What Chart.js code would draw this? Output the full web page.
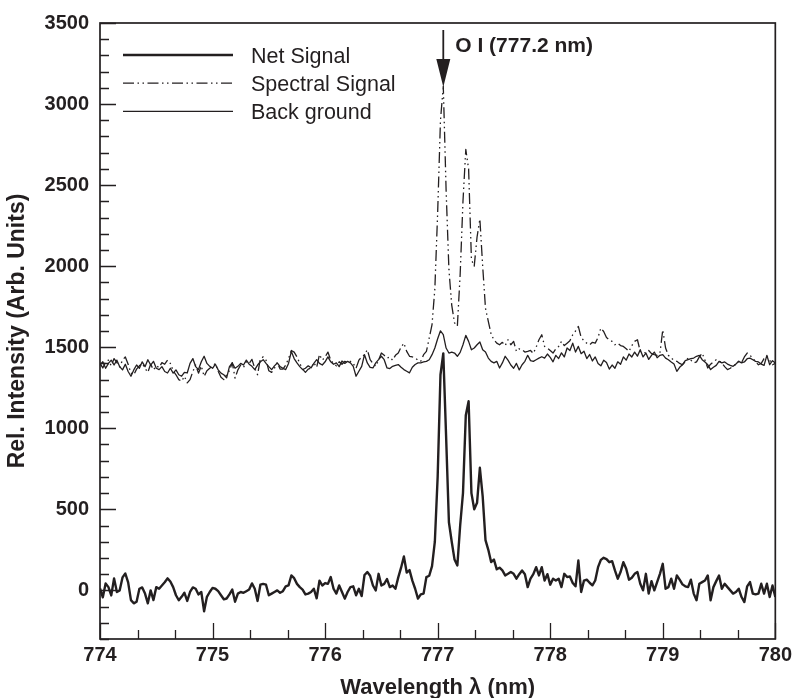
<!DOCTYPE html>
<html>
<head>
<meta charset="utf-8">
<script src="https://cdn.jsdelivr.net/npm/chart.js@4.4.1/dist/chart.umd.min.js"></script>
<style>
html,body{margin:0;padding:0;background:#ffffff;}
#wrap{width:796px;height:698px;}
</style>
</head>
<body>
<div id="wrap"><canvas id="c" width="796" height="698"></canvas></div>
<script>
// ---- data ----
const wlStart = 774;
const wlStep = 0.025;

const netSignal = [
  12, -43, 43, 20, -31, 74, -10, 0, 80, 104, 49, -60, -80, -70, 10, 18, -20, -80, 0, -60,
  20, 10, 30, 50, 74, 55, 20, -30, -61, -40, -15, -65, -10, 18, 10, -25, -10, -129, -40, -10,
  15, 10, -5, -30, -55, -50, -25, 5, -70, -20, -10, -15, -5, 5, 43, 10, -65, 35, 40, 35,
  -30, -20, -10, 0, -15, -5, 25, 31, 92, 75, 40, 20, 5, -25, -20, -10, 10, -49, 60, 30,
  45, 40, 82, 10, -20, 30, -10, -51, -10, 20, 25, -30, 10, -35, 95, 113, 90, 30, 0, 102,
  30, 40, 70, 20, 30, 10, 80, 140, 209, 110, 125, 60, 10, -51, -25, -20, 82, 90, 150, 300,
  700, 1330, 1462, 950, 420, 300, 190, 154, 400, 600, 1080, 1167, 600, 500, 540, 756, 580, 310, 250, 175,
  190, 130, 140, 123, 92, 102, 113, 102, 72, 100, 123, 100, 20, 72, 100, 143, 92, 143, 61, 100,
  35, 72, 61, 72, 20, 102, 82, 86, 45, 25, 184, -10, 60, 66, 47, 31, 61, 143, 188, 201,
  193, 174, 180, 123, 72, 113, 174, 133, 66, 78, 102, 113, 41, 0, 102, -20, 57, 0, 51, 102,
  164, 10, 20, 72, 10, 92, 66, 37, 25, 20, 66, -20, -61, 41, 51, 61, 92, -61, 20, 57,
  92, 10, 41, 20, 0, -20, -10, 10, -41, -72, 25, 51, -20, -25, -20, 41, -20, 41, -41, 30, -40
];

const spectralSignal = [
  1400, 1372, 1410, 1420, 1385, 1430, 1405, 1378, 1420, 1440, 1395, 1340, 1330, 1365, 1385, 1400, 1370, 1345, 1395, 1360,
  1385, 1375, 1405, 1395, 1420, 1400, 1355, 1330, 1300, 1290, 1320, 1280, 1300, 1350, 1390, 1340, 1385, 1320, 1355, 1370,
  1385, 1400, 1352, 1315, 1300, 1330, 1355, 1405, 1310, 1360, 1390, 1375, 1410, 1400, 1425, 1370, 1330, 1430, 1440, 1420,
  1355, 1345, 1370, 1405, 1365, 1365, 1390, 1430, 1480, 1470, 1440, 1400, 1365, 1345, 1365, 1370, 1405, 1375, 1455, 1420,
  1440, 1470, 1420, 1400, 1385, 1410, 1395, 1413, 1405, 1413, 1400, 1370, 1420, 1440, 1454, 1484, 1423, 1400, 1382, 1420,
  1464, 1450, 1433, 1440, 1420, 1450, 1464, 1500, 1525, 1474, 1444, 1440, 1433, 1420, 1413, 1454, 1474, 1556, 1640, 1860,
  2330, 2900, 3110, 2470, 1980, 1760, 1650, 1630, 1950, 2400, 2720, 2600, 2040, 2000, 2180, 2290, 2000, 1740, 1660, 1580,
  1546, 1525, 1515, 1530, 1510, 1546, 1515, 1536, 1474, 1490, 1485, 1470, 1474, 1480, 1462, 1500, 1546, 1577, 1505, 1495,
  1480, 1464, 1490, 1505, 1536, 1510, 1525, 1540, 1577, 1600, 1628, 1560, 1540, 1525, 1515, 1530, 1525, 1560, 1618, 1597,
  1560, 1546, 1536, 1515, 1525, 1510, 1505, 1490, 1474, 1510, 1536, 1546, 1474, 1470, 1464, 1480, 1460, 1454, 1450, 1464,
  1607, 1495, 1450, 1433, 1420, 1413, 1400, 1392, 1410, 1433, 1420, 1403, 1410, 1440, 1464, 1420, 1372, 1395, 1410, 1423,
  1415, 1403, 1380, 1362, 1370, 1382, 1395, 1413, 1405, 1440, 1464, 1450, 1433, 1410, 1392, 1400, 1430, 1444, 1420, 1392, 1400
];

const background = [
  1390, 1410, 1370, 1400, 1420, 1390, 1420, 1380, 1360, 1395, 1350, 1321, 1360, 1390, 1370, 1410, 1380, 1423, 1390, 1413,
  1370, 1362, 1380, 1350, 1341, 1370, 1340, 1360, 1330, 1321, 1345, 1341, 1400, 1430, 1380, 1362, 1410, 1444, 1400, 1382,
  1370, 1395, 1360, 1340, 1330, 1311, 1380, 1403, 1370, 1382, 1400, 1390, 1420, 1395, 1382, 1362, 1390, 1410, 1423, 1400,
  1380, 1362, 1385, 1403, 1380, 1370, 1362, 1400, 1474, 1430, 1403, 1380, 1362, 1370, 1385, 1373, 1400, 1423, 1400, 1390,
  1410, 1440, 1410, 1395, 1403, 1380, 1415, 1400, 1413, 1403, 1382, 1321, 1352, 1382, 1454, 1403, 1376, 1372, 1403, 1423,
  1444, 1423, 1372, 1368, 1382, 1388, 1393, 1376, 1362, 1352, 1342, 1376, 1393, 1403, 1403, 1409, 1413, 1423, 1454, 1495,
  1552, 1601, 1577, 1495, 1464, 1470, 1464, 1444, 1468, 1515, 1573, 1536, 1484, 1495, 1515, 1532, 1484, 1470, 1433, 1413,
  1403, 1413, 1372, 1403, 1444, 1420, 1390, 1370, 1400, 1360, 1392, 1413, 1450, 1417, 1413, 1423, 1433, 1441, 1433, 1458,
  1437, 1410, 1450, 1430, 1465, 1440, 1495, 1480, 1525, 1470, 1505, 1460, 1475, 1430, 1455, 1415, 1440, 1400, 1385, 1420,
  1405, 1365, 1390, 1370, 1410, 1395, 1440, 1420, 1458, 1440, 1470, 1445, 1485, 1440, 1464, 1425, 1450, 1470, 1435, 1450,
  1454, 1433, 1423, 1409, 1396, 1351, 1376, 1392, 1417, 1423, 1429, 1433, 1444, 1450, 1423, 1409, 1392, 1362, 1376, 1388,
  1413, 1403, 1409, 1396, 1388, 1382, 1396, 1413, 1403, 1409, 1429, 1433, 1423, 1413, 1409, 1396, 1388, 1450, 1392, 1417, 1403
];

const seriesNames = ['Net Signal', 'Spectral Signal', 'Back ground'];
const xTickLabels = [774, 775, 776, 777, 778, 779, 780];
const yTickLabels = [0, 500, 1000, 1500, 2000, 2500, 3000, 3500];
const xTitle = 'Wavelength \u03BB (nm)';
const yTitle = 'Rel. Intensity (Arb. Units)';
const annotationText = 'O I (777.2 nm)';
const annotationWavelength = 777.05;

// ---- styling ----
const ink = '#231f20';
const FONT = '"Liberation Sans", Arial, Helvetica, sans-serif';
const spectralDash = [11, 3.5, 1.5, 3.5, 1.5, 3.5];

Chart.defaults.font.family = FONT;
Chart.defaults.color = ink;

function toPoints(arr) {
  return arr.map((v, i) => ({ x: wlStart + i * wlStep, y: v }));
}

const styles = [
  { width: 2.4, dash: [] },
  { width: 1.3, dash: spectralDash },
  { width: 1.3, dash: [] }
];

// inward ticks, frame, legend and annotation drawn via the chart's scales
const decor = {
  id: 'decor',
  afterDraw(chart) {
    const { ctx, chartArea: a, scales: { x, y } } = chart;
    ctx.save();
    // frame
    ctx.strokeStyle = ink;
    ctx.lineWidth = 1.7;
    ctx.strokeRect(a.left, a.top, a.right - a.left, a.bottom - a.top);
    // ticks
    ctx.lineWidth = 1.3;
    ctx.beginPath();
    for (let k = 0; k <= 18; k++) {
      const v = xTickLabels[0] + k / 3;
      const px = Math.round(x.getPixelForValue(v)) + 0.5;
      const len = (k % 3 === 0) ? 16 : 9;
      ctx.moveTo(px, a.bottom);
      ctx.lineTo(px, a.bottom - len);
    }
    for (let v = y.min; v <= y.max; v += 100) {
      const py = Math.round(y.getPixelForValue(v)) + 0.5;
      const len = (v % 500 === 0) ? 16 : 9;
      ctx.moveTo(a.left, py);
      ctx.lineTo(a.left + len, py);
    }
    ctx.stroke();

    // legend
    ctx.font = '21.5px ' + FONT;
    ctx.fillStyle = ink;
    ctx.textAlign = 'left';
    ctx.textBaseline = 'alphabetic';
    for (let k = 0; k < seriesNames.length; k++) {
      const ly = a.top + 32 + k * 28.2;
      ctx.beginPath();
      ctx.lineWidth = styles[k].width;
      ctx.setLineDash(styles[k].dash);
      ctx.moveTo(a.left + 23, ly);
      ctx.lineTo(a.left + 133, ly);
      ctx.stroke();
      ctx.setLineDash([]);
      ctx.fillText(seriesNames[k], a.left + 151, ly + 7.6);
    }

    // annotation arrow
    const ax = x.getPixelForValue(annotationWavelength);
    ctx.beginPath();
    ctx.lineWidth = 1.8;
    ctx.moveTo(ax, a.top + 7);
    ctx.lineTo(ax, a.top + 38);
    ctx.stroke();
    ctx.beginPath();
    ctx.moveTo(ax - 7, a.top + 36);
    ctx.lineTo(ax + 7, a.top + 36);
    ctx.lineTo(ax, a.top + 64);
    ctx.closePath();
    ctx.fill();
    ctx.font = 'bold 21px ' + FONT;
    ctx.fillText(annotationText, ax + 12, a.top + 28.5);
    ctx.restore();
  }
};

new Chart(document.getElementById('c'), {
  type: 'line',
  data: {
    datasets: [
      { label: seriesNames[2], data: toPoints(background), borderColor: ink, borderWidth: styles[2].width, borderDash: styles[2].dash },
      { label: seriesNames[1], data: toPoints(spectralSignal), borderColor: ink, borderWidth: styles[1].width, borderDash: styles[1].dash },
      { label: seriesNames[0], data: toPoints(netSignal), borderColor: ink, borderWidth: styles[0].width, borderDash: styles[0].dash }
    ]
  },
  options: {
    responsive: false,
    maintainAspectRatio: false,
    devicePixelRatio: 1,
    animation: false,
    layout: { padding: { top: 21, right: 17, left: 0, bottom: 0 } },
    elements: { point: { radius: 0 }, line: { tension: 0, borderJoinStyle: 'round', fill: false } },
    plugins: { legend: { display: false }, tooltip: { enabled: false } },
    scales: {
      x: {
        type: 'linear',
        min: 774, max: 780,
        afterBuildTicks: s => { s.ticks = xTickLabels.map(v => ({ value: v })); },
        afterFit: s => { s.height = 59; },
        grid: { display: false, drawTicks: false },
        border: { display: false },
        ticks: { font: { size: 20, weight: 'bold' }, color: ink, padding: 4, maxRotation: 0, autoSkip: false, callback: v => String(v) },
        title: { display: true, text: xTitle, font: { size: 22, weight: 'bold' }, color: ink, padding: { top: 0, bottom: -3 } }
      },
      y: {
        type: 'linear',
        min: -300, max: 3500,
        afterBuildTicks: s => { s.ticks = yTickLabels.map(v => ({ value: v })); },
        afterFit: s => { s.width = 100; },
        grid: { display: false, drawTicks: false },
        border: { display: false },
        ticks: { font: { size: 20, weight: 'bold' }, color: ink, padding: 11, autoSkip: false, callback: v => String(v) },
        title: { display: true, text: yTitle, font: { size: 23, weight: 'bold' }, color: ink, padding: { top: 4, bottom: 0 } }
      }
    }
  },
  plugins: [decor]
});
</script>
</body>
</html>
